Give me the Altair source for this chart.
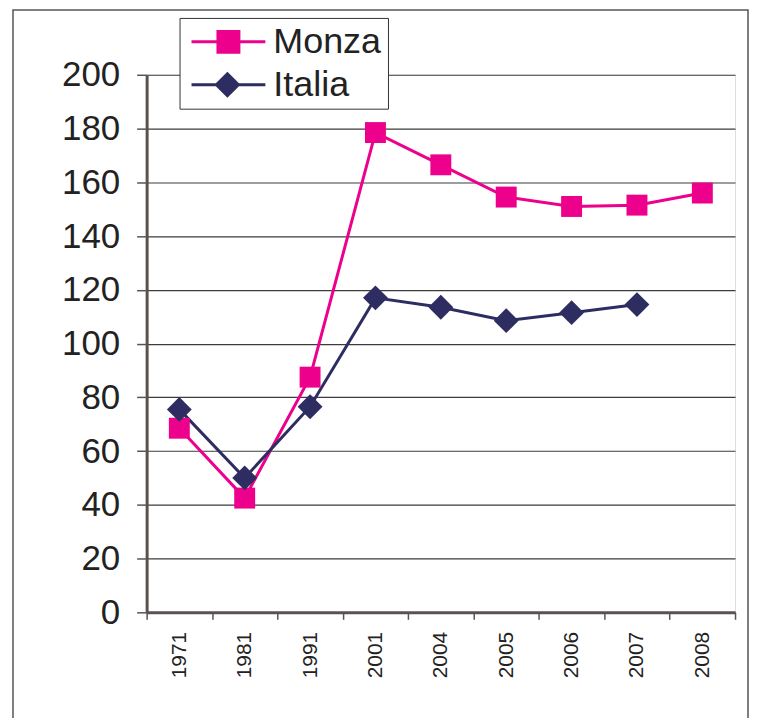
import altair as alt
import pandas as pd

years = ['1971', '1981', '1991', '2001', '2004', '2005', '2006', '2007', '2008']
monza = [68.5, 42.5, 87.5, 178.5, 166.5, 154.5, 151, 151.5, 156]
italia = [75.5, 50, 76.5, 117, 113.5, 108.5, 111.5, 114.5, None]
series = ['Monza', 'Italia']
colors = ['#EC008C', '#2E2D62']
y_ticks = [0, 20, 40, 60, 80, 100, 120, 140, 160, 180, 200]

rows = []
for name, vals in zip(series, [monza, italia]):
    for i, (yr, v) in enumerate(zip(years, vals)):
        if v is not None:
            rows.append({'idx': i, 'year': yr, 'series': name, 'value': v})
df = pd.DataFrame(rows)

FONT = 'Liberation Sans'
n = len(years)
tick_vals = [i - 0.5 for i in range(n + 1)]
years_js = '[' + ','.join("'%s'" % y for y in years) + ']'
W, H = 590, 539
band = W / n

x_enc = alt.X('idx:Q',
              scale=alt.Scale(domain=[-0.5, n - 0.5], nice=False, zero=False),
              axis=alt.Axis(values=tick_vals, title=None, grid=False,
                            labelExpr=years_js + "[datum.value + 0.5] || ''",
                            labelAngle=-90, labelAlign='right', labelBaseline='middle',
                            labelOffset=band / 2, labelPadding=12, labelFontSize=21,
                            labelFont=FONT, labelColor='#222', labelOverlap=False,
                            labelFlush=False, tickSize=7, tickColor='#555', tickWidth=1.5,
                            domainColor='#5A5250', domainWidth=3))
y_enc = alt.Y('value:Q',
              scale=alt.Scale(domain=[0, 200], nice=False),
              axis=alt.Axis(values=y_ticks, title=None, grid=True, gridColor='#3C3C3C',
                            gridWidth=1.2, labelFontSize=35, labelFont=FONT,
                            labelColor='#222', labelPadding=17, tickSize=10,
                            tickColor='#555', tickWidth=1.5, domainColor='#5A5250',
                            domainWidth=3, labelBaseline='middle'))
color_scale = alt.Scale(domain=series, range=colors)

frame = alt.Chart(pd.DataFrame({'a': [0]})).mark_rect(
    fillOpacity=0, stroke='#555', strokeWidth=1.5
).encode(x=alt.value(-134), x2=alt.value(603), y=alt.value(-65), y2=alt.value(720))

lines = alt.Chart(df).mark_line(strokeWidth=3).encode(
    x=x_enc, y=y_enc,
    color=alt.Color('series:N', scale=color_scale, legend=None),
    detail='series:N')

points = alt.Chart(df).mark_point(filled=True, opacity=1).encode(
    x=x_enc, y=y_enc,
    color=alt.Color('series:N', scale=color_scale, legend=None),
    size=alt.Size('series:N', scale=alt.Scale(domain=series, range=[440, 620]), legend=None),
    shape=alt.Shape('series:N', scale=alt.Scale(domain=series, range=['square', 'diamond']),
                    legend=None))

# legend symbols: line with marker (units of 11px)
sq = "M-1.09,0H5.64M1.32,-0.95H3.23V0.95H1.32Z"
di = "M-1.09,0H5.64M2.18,-1L3.18,0L2.18,1L1.18,0Z"
leg = alt.Legend(orient='none', legendX=33, legendY=-57, title=None,
                 fillColor='white', strokeColor='#333', padding=6,
                 labelFontSize=36, labelFont=FONT, labelColor='#222',
                 symbolSize=484, symbolStrokeWidth=3, symbolOpacity=1,
                 labelOffset=52, rowPadding=7, labelLimit=0)
legend_layer = alt.Chart(df).transform_filter('false').mark_point(
    filled=True, opacity=1, strokeWidth=3).encode(
    fill=alt.Fill('series:N', scale=alt.Scale(domain=series, range=colors), legend=leg),
    stroke=alt.Stroke('series:N', scale=alt.Scale(domain=series, range=colors), legend=leg),
    shape=alt.Shape('series:N', scale=alt.Scale(domain=series, range=[sq, di]), legend=leg))

chart = alt.layer(frame, lines, points, legend_layer).resolve_scale(
    shape='independent', color='independent', fill='independent',
    stroke='independent', size='independent'
).properties(
    width=W, height=H,
    autosize=alt.AutoSizeParams(type='none'),
    padding={'left': 139, 'top': 66, 'right': 14, 'bottom': 105}
).configure_view(
    fill='#C0B8B5', stroke='#8C8280', strokeWidth=3
).configure(background='white')

chart.save('out.html', embed_options={'renderer': 'svg', 'actions': False})
